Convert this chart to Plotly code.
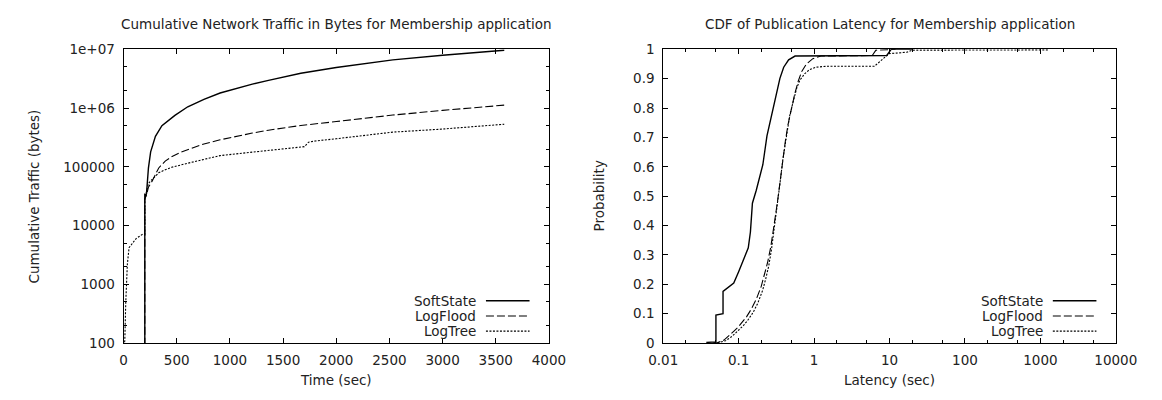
import plotly.graph_objects as go

W, H = 1162, 400

# ---------------- Left chart: cumulative traffic ----------------
soft_t = [200, 200, 204, 216, 234, 255, 300, 361, 422, 483, 604, 756, 908, 1059, 1211, 1363, 1515, 1667, 2000, 2532, 3000, 3580]
soft_b = [90, 35000, 30000, 35000, 95000, 180000, 330000, 500000, 620000, 750000, 1050000, 1400000, 1800000, 2150000,
          2550000, 2950000, 3400000, 3900000, 4900000, 6600000, 7900000, 9600000]

flood_t = [200, 200, 216, 234, 270, 331, 392, 452, 543, 634, 756, 908, 1059, 1211, 1363, 1515, 1667, 2000, 2532, 3000, 3580]
flood_b = [90, 28200, 33100, 44700, 57500, 95500, 125000, 148000, 178000, 204000, 245000, 288000, 331000, 375000,
           420000, 465000, 505000, 589000, 759000, 912000, 1120000]

tree_t = [5, 12, 21, 27, 36, 52, 73, 118, 179, 200, 200, 216, 234, 255, 300, 331, 392, 452, 604, 756, 908, 1059,
          1211, 1363, 1515, 1621, 1700, 1740, 1803, 2000, 2532, 2987, 3580]
tree_b = [90, 110, 490, 1050, 2200, 4200, 4700, 6000, 7100, 7100, 28000, 38000, 52000, 57500, 69000, 79000, 89000,
          98000, 115000, 135000, 155000, 166000, 178000, 190000, 205000, 214000, 220000, 262000, 275000, 300000,
          389000, 437000, 530000]

left_xticks = [0, 500, 1000, 1500, 2000, 2500, 3000, 3500, 4000]
left_yticks = [100, 1000, 10000, 100000, 1000000, 10000000]
left_yticktext = ["100", "1000", "10000", "100000", "1e+06", "1e+07"]

# ---------------- Right chart: latency CDF ----------------
soft_lat = [0.0372, 0.0499, 0.0499, 0.054, 0.062, 0.062, 0.086, 0.0995, 0.115, 0.134, 0.143, 0.152, 0.171, 0.189,
            0.209, 0.237, 0.262, 0.289, 0.318, 0.352, 0.395, 0.459, 0.559, 9.2, 10.5, 20]
soft_p = [0.002, 0.004, 0.095, 0.097, 0.10, 0.176, 0.204, 0.242, 0.280, 0.324, 0.378, 0.476, 0.52, 0.569, 0.607,
          0.705, 0.754, 0.803, 0.857, 0.901, 0.939, 0.964, 0.977, 0.979, 1.0, 1.0]

flood_lat = [0.045, 0.0525, 0.0638, 0.0741, 0.0859, 0.0975, 0.110, 0.127, 0.148, 0.171, 0.199, 0.219, 0.242, 0.267,
             0.289, 0.309, 0.331, 0.359, 0.388, 0.416, 0.450, 0.482, 0.522, 0.558, 0.617, 0.681, 0.791, 0.962, 1.23,
             5.9, 6.6, 12]
flood_p = [0.0, 0.002, 0.010, 0.024, 0.040, 0.053, 0.068, 0.089, 0.117, 0.149, 0.193, 0.231, 0.275, 0.329, 0.383,
           0.438, 0.492, 0.563, 0.634, 0.688, 0.743, 0.781, 0.819, 0.852, 0.892, 0.923, 0.950, 0.968, 0.977, 0.979,
           0.997, 1.0]

tree_lat = [0.047, 0.055, 0.067, 0.078, 0.090, 0.103, 0.116, 0.134, 0.156, 0.180, 0.208, 0.228, 0.250, 0.272, 0.292,
            0.311, 0.332, 0.358, 0.386, 0.414, 0.446, 0.476, 0.532, 0.588, 0.648, 0.752, 0.871, 1.06, 1.43, 6.3, 9.8,
            17, 20, 1300]
tree_p = [0.0, 0.002, 0.008, 0.019, 0.033, 0.046, 0.060, 0.080, 0.105, 0.137, 0.180, 0.218, 0.262, 0.318, 0.375,
          0.432, 0.487, 0.557, 0.627, 0.683, 0.738, 0.776, 0.825, 0.868, 0.895, 0.917, 0.931, 0.939, 0.942, 0.942,
          0.985, 0.990, 0.997, 0.998]

right_xticks = [0.01, 0.1, 1, 10, 100, 1000, 10000]
right_xticktext = ["0.01", "0.1", "1", "10", "100", "1000", "10000"]
right_yticks = [0, 0.1, 0.2, 0.3, 0.4, 0.5, 0.6, 0.7, 0.8, 0.9, 1]
right_yticktext = ["0", "0.1", "0.2", "0.3", "0.4", "0.5", "0.6", "0.7", "0.8", "0.9", "1"]

series_names = ["SoftState", "LogFlood", "LogTree"]
titles = ["Cumulative Network Traffic in Bytes for Membership application",
          "CDF of Publication Latency for Membership application"]
xtitles = ["Time (sec)", "Latency (sec)"]
ytitles = ["Cumulative Traffic (bytes)", "Probability"]

# ---------------- styling ----------------
FONT = "DejaVu Sans, Verdana, sans-serif"
FS = 13.5
TXT = "#222222"
styles = [dict(color="black", width=1.4),
          dict(color="black", width=1.1, dash="8px,3px"),
          dict(color="black", width=1.1, dash="2px,1.5px")]

# pixel geometry
L_X0, L_X1 = 112, 551
R_X0, R_X1 = 669, 1136
Y_TOP, Y_BOT = 43, 349


def px(x):
    return x / W


def py(y):
    return 1 - y / H


fig = go.Figure()
for t, v, s, n in zip([soft_t, flood_t, tree_t], [soft_b, flood_b, tree_b], styles, series_names):
    fig.add_trace(go.Scatter(x=t, y=v, mode="lines", line=s, name=n, xaxis="x", yaxis="y", showlegend=False))
for t, v, s, n in zip([soft_lat, flood_lat, tree_lat], [soft_p, flood_p, tree_p], styles, series_names):
    fig.add_trace(go.Scatter(x=t, y=v, mode="lines", line=s, name=n, xaxis="x2", yaxis="y2", showlegend=False))

axis_common = dict(showline=True, linecolor="black", linewidth=1, mirror="ticks", ticks="inside",
                   ticklen=5, tickwidth=1, tickcolor="black", showgrid=False, zeroline=False,
                   tickfont=dict(family=FONT, size=FS, color=TXT))

fig.update_layout(
    width=W, height=H, margin=dict(l=0, r=0, t=0, b=0),
    paper_bgcolor="white", plot_bgcolor="white",
    showlegend=False,
    xaxis=dict(domain=[px(L_X0), px(L_X1)], range=[0, 4000], tickmode="array", tickvals=left_xticks,
               anchor="y", ticklabelstandoff=5, **axis_common),
    yaxis=dict(domain=[py(Y_BOT), py(Y_TOP)], type="log", range=[2, 7], tickmode="array",
               tickvals=left_yticks, ticktext=left_yticktext, anchor="x", ticklabelstandoff=5,
               minor=dict(ticks="inside", ticklen=3, tickcolor="black", tickmode="array",
                          tickvals=[m * 10 ** k for k in range(2, 7) for m in (2, 5)]),
               **axis_common),
    xaxis2=dict(domain=[px(R_X0), px(R_X1)], type="log", range=[-2, 4], tickmode="array",
                tickvals=right_xticks, ticktext=right_xticktext, anchor="y2", ticklabelstandoff=5,
                minor=dict(ticks="inside", ticklen=3, tickcolor="black", tickmode="array",
                           tickvals=[m * 10.0 ** k for k in range(-2, 4) for m in (2, 5)]),
                **axis_common),
    yaxis2=dict(domain=[py(Y_BOT), py(Y_TOP)], range=[0, 1], tickmode="array", tickvals=right_yticks,
                ticktext=right_yticktext, anchor="x2", ticklabelstandoff=5, **axis_common),
)

ann = []
shapes = []
font = dict(family=FONT, size=FS, color=TXT)
for x0, x1, title, xt, yt, ylab_x in [(L_X0, L_X1, titles[0], xtitles[0], ytitles[0], 20),
                                      (R_X0, R_X1, titles[1], xtitles[1], ytitles[1], 603)]:
    cx = (x0 + x1) / 2
    ann.append(dict(x=px(cx), y=py(17), xref="paper", yref="paper", text=title, showarrow=False,
                    xanchor="center", yanchor="middle", font=font))
    ann.append(dict(x=px(cx), y=py(388), xref="paper", yref="paper", text=xt, showarrow=False,
                    xanchor="center", yanchor="middle", font=font))
    ann.append(dict(x=px(ylab_x), y=py((Y_TOP + Y_BOT) / 2), xref="paper", yref="paper", text=yt,
                    showarrow=False, textangle=-90, xanchor="center", yanchor="middle", font=font))
    # gnuplot-style key at bottom right
    for i, (name, st) in enumerate(zip(series_names, styles)):
        yy = 305 + i * 15.8
        ann.append(dict(x=px(x1 - 73), y=py(yy), xref="paper", yref="paper", text=name, showarrow=False,
                        xanchor="right", yanchor="middle", font=font))
        shapes.append(dict(type="line", xref="paper", yref="paper", x0=px(x1 - 65), x1=px(x1 - 20),
                           y0=py(yy), y1=py(yy), line=dict(color="black", width=st["width"],
                                                           dash=st.get("dash", "solid"))))

fig.update_layout(annotations=ann, shapes=shapes)
fig.write_html("out.html")
